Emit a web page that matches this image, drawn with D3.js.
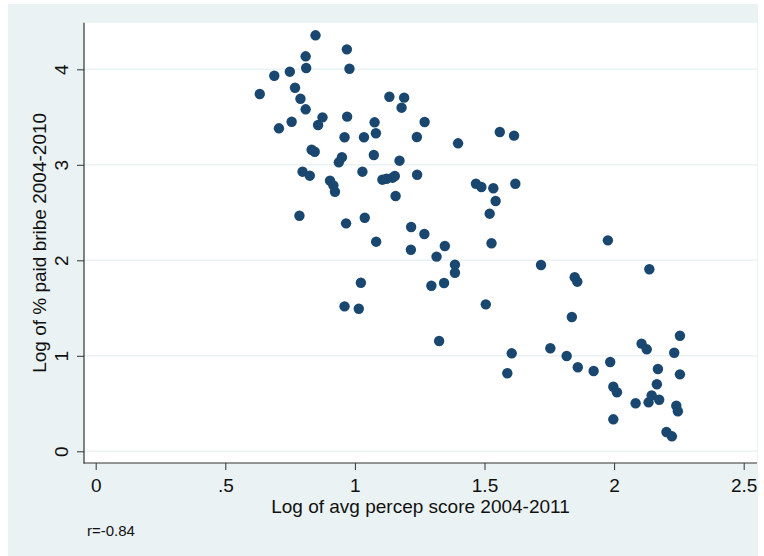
<!DOCTYPE html>
<html>
<head>
<meta charset="utf-8">
<script src="https://cdn.jsdelivr.net/npm/d3@7"></script>
<style>
  html, body { margin: 0; padding: 0; background: #ffffff; }
  svg { display: block; }
  text { font-family: "Liberation Sans", Arial, Helvetica, sans-serif; fill: #111; }
</style>
</head>
<body>
<svg id="chart" width="764" height="556"></svg>
<script>
// ---- data ----
const percepScore = [
  0.848, 0.969, 0.810, 0.812, 0.979, 0.749, 0.689, 0.633, 0.769, 0.790,
  0.810, 0.875, 0.970, 0.756, 0.858, 0.707, 0.960, 1.035, 0.833, 0.845,
  0.950, 0.938, 0.798, 0.826, 1.029, 0.904, 0.917, 0.923, 0.786, 0.966,
  1.038, 1.133, 1.190, 1.180, 1.076, 1.269, 1.081, 1.239, 1.398, 1.073,
  1.172, 1.240, 1.106, 1.122, 1.145, 1.154, 1.157, 1.217, 1.268, 1.082,
  1.559, 1.614, 1.467, 1.488, 1.534, 1.619, 1.543, 1.520, 1.527, 1.976,
  1.023, 0.960, 1.015, 1.216, 1.347, 1.315, 1.386, 1.386, 1.295, 1.344,
  1.325, 1.718, 1.848, 1.858, 1.505, 1.837, 1.605, 1.754, 1.817, 1.860,
  1.588, 2.136, 2.254, 2.106, 2.126, 2.232, 1.921, 1.985, 2.169, 2.254,
  1.997, 2.011, 2.165, 2.083, 2.145, 2.133, 2.174, 2.240, 2.246, 1.997,
  2.202, 2.223
];
const paidBribe = [
  4.356, 4.209, 4.136, 4.014, 4.006, 3.975, 3.933, 3.741, 3.807, 3.692,
  3.581, 3.497, 3.504, 3.451, 3.417, 3.382, 3.288, 3.288, 3.158, 3.137,
  3.079, 3.026, 2.928, 2.886, 2.928, 2.834, 2.785, 2.718, 2.467, 2.387,
  2.446, 3.713, 3.703, 3.598, 3.445, 3.448, 3.330, 3.291, 3.225, 3.103,
  3.043, 2.896, 2.844, 2.854, 2.865, 2.883, 2.673, 2.349, 2.275, 2.195,
  3.343, 3.305, 2.802, 2.768, 2.754, 2.802, 2.621, 2.488, 2.178, 2.209,
  1.765, 1.518, 1.493, 2.111, 2.150, 2.038, 1.954, 1.870, 1.734, 1.762,
  1.155, 1.951, 1.822, 1.776, 1.539, 1.406, 1.026, 1.079, 0.998, 0.880,
  0.817, 1.906, 1.210, 1.127, 1.068, 1.032, 0.841, 0.935, 0.862, 0.806,
  0.676, 0.618, 0.702, 0.503, 0.586, 0.513, 0.540, 0.477, 0.419, 0.335,
  0.202, 0.157
];
const xTicks = [0, 0.5, 1, 1.5, 2, 2.5];
const xTickLabels = ["0", ".5", "1", "1.5", "2", "2.5"];
const yTicks = [0, 1, 2, 3, 4];
const yTickLabels = ["0", "1", "2", "3", "4"];
const xTitle = "Log of avg percep score 2004-2011";
const yTitle = "Log of % paid bribe 2004-2010";
const note = "r=-0.84";

// ---- layout ----
const svg = d3.select("#chart");
const plot = { left: 84, top: 22.7, right: 757, bottom: 463 };
const markerColor = "#1a476f";
const bgColor = "#eaf2f3";

const x = d3.scaleLinear().domain([0, 2.5]).range([95.7, 743.7]);
const y = d3.scaleLinear().domain([0, 4]).range([451.3, 69.3]);

// graph region background
svg.append("rect").attr("x", 8).attr("y", 4).attr("width", 750).attr("height", 552)
  .attr("fill", bgColor);
// plot region
svg.append("rect").attr("x", plot.left).attr("y", plot.top)
  .attr("width", plot.right - plot.left).attr("height", plot.bottom - plot.top)
  .attr("fill", "#ffffff");

// horizontal grid lines
svg.append("g").selectAll("line").data(yTicks).join("line")
  .attr("x1", plot.left).attr("x2", plot.right)
  .attr("y1", d => y(d)).attr("y2", d => y(d))
  .attr("stroke", bgColor).attr("stroke-width", 1.4);

// y axis
const yAxis = d3.axisLeft(y).tickValues(yTicks)
  .tickFormat((d, i) => yTickLabels[i]).tickSize(7);
const gy = svg.append("g").attr("transform", `translate(${plot.left},0)`).call(yAxis);
gy.select(".domain").remove();
gy.selectAll(".tick line").attr("stroke", "#333").attr("stroke-width", 1);
gy.selectAll(".tick text")
  .attr("x", null).attr("dy", null)
  .attr("transform", "translate(-15.7,0) rotate(-90)")
  .attr("text-anchor", "middle")
  .attr("fill", "#111")
  .style("font-size", "19px")
  .style("font-family", "'Liberation Sans', Arial, Helvetica, sans-serif");
svg.append("line").attr("x1", plot.left).attr("x2", plot.left)
  .attr("y1", plot.top).attr("y2", plot.bottom + 0.5)
  .attr("stroke", "#333").attr("stroke-width", 1.2);

// x axis
const xAxis = d3.axisBottom(x).tickValues(xTicks)
  .tickFormat((d, i) => xTickLabels[i]).tickSize(7);
const gx = svg.append("g").attr("transform", `translate(0,${plot.bottom})`).call(xAxis);
gx.select(".domain").remove();
gx.selectAll(".tick line").attr("stroke", "#333").attr("stroke-width", 1);
gx.selectAll(".tick text")
  .attr("y", 28.5).attr("dy", null)
  .attr("fill", "#111")
  .style("font-size", "19px")
  .style("font-family", "'Liberation Sans', Arial, Helvetica, sans-serif");
svg.append("line").attr("x1", plot.left - 0.5).attr("x2", plot.right)
  .attr("y1", plot.bottom).attr("y2", plot.bottom)
  .attr("stroke", "#333").attr("stroke-width", 1.2);

// points
svg.append("g").selectAll("circle").data(percepScore.map((v, i) => [v, paidBribe[i]]))
  .join("circle")
  .attr("cx", d => x(d[0])).attr("cy", d => y(d[1]))
  .attr("r", 5.2).attr("fill", markerColor);

// titles
svg.append("text").attr("x", (plot.left + plot.right) / 2).attr("y", 513)
  .attr("text-anchor", "middle").style("font-size", "19px").text(xTitle);
svg.append("text").attr("transform", `translate(46,${(plot.top + plot.bottom) / 2}) rotate(-90)`)
  .attr("text-anchor", "middle").style("font-size", "19px").text(yTitle);
svg.append("text").attr("x", 87).attr("y", 535.5)
  .style("font-size", "15px").text(note);
</script>
</body>
</html>
